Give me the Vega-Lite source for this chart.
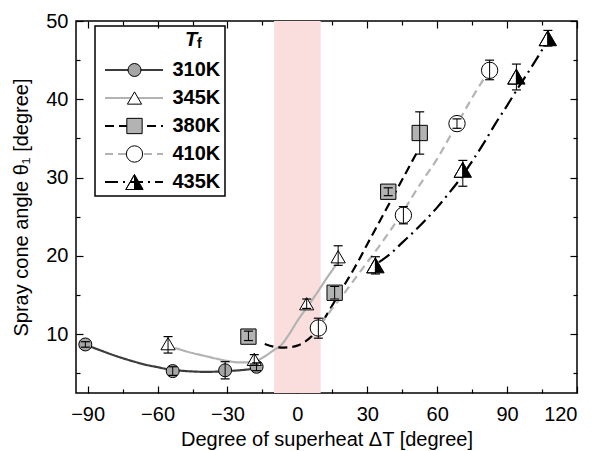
{
  "$schema": "https://vega.github.io/schema/vega-lite/v6.json",
  "width": 501,
  "height": 372,
  "autosize": {"type": "none"},
  "padding": {"left": 76, "top": 21, "right": 30, "bottom": 58},
  "background": "white",
  "config": {
    "view": {"stroke": "black", "strokeWidth": 1.5},
    "font": "Liberation Sans",
    "axis": {"grid": false, "domain": false, "tickColor": "black", "tickWidth": 1.2, "labelColor": "black", "titleColor": "black", "labelFont": "Liberation Sans", "titleFont": "Liberation Sans", "labelFontSize": 20, "titleFontSize": 20, "titleFontWeight": "normal"}
  },
  "datasets": {
    "curves": [
      {"Tf": "310K", "x": -91, "y": 8.65}, {"Tf": "310K", "x": -85, "y": 8.0}, {"Tf": "310K", "x": -80, "y": 7.45}, {"Tf": "310K", "x": -75, "y": 6.95}, {"Tf": "310K", "x": -70, "y": 6.5}, {"Tf": "310K", "x": -65, "y": 6.1}, {"Tf": "310K", "x": -60, "y": 5.8}, {"Tf": "310K", "x": -55, "y": 5.5}, {"Tf": "310K", "x": -50, "y": 5.35}, {"Tf": "310K", "x": -45, "y": 5.25}, {"Tf": "310K", "x": -40, "y": 5.2}, {"Tf": "310K", "x": -35, "y": 5.22}, {"Tf": "310K", "x": -30, "y": 5.3}, {"Tf": "310K", "x": -25, "y": 5.4}, {"Tf": "310K", "x": -20, "y": 5.55}, {"Tf": "310K", "x": -17.5, "y": 5.65},
      {"Tf": "345K", "x": -52.5, "y": 8.25}, {"Tf": "345K", "x": -45, "y": 7.6}, {"Tf": "345K", "x": -40, "y": 7.25}, {"Tf": "345K", "x": -35, "y": 6.9}, {"Tf": "345K", "x": -30, "y": 6.6}, {"Tf": "345K", "x": -25, "y": 6.4}, {"Tf": "345K", "x": -20, "y": 6.45}, {"Tf": "345K", "x": -15, "y": 7.0}, {"Tf": "345K", "x": -10, "y": 8.0}, {"Tf": "345K", "x": -7, "y": 8.6}, {"Tf": "345K", "x": -4, "y": 9.8}, {"Tf": "345K", "x": 0, "y": 11.7}, {"Tf": "345K", "x": 4, "y": 13.4}, {"Tf": "345K", "x": 8, "y": 15.1}, {"Tf": "345K", "x": 12, "y": 16.9}, {"Tf": "345K", "x": 17.4, "y": 19.2},
      {"Tf": "380K", "x": -14, "y": 8.75}, {"Tf": "380K", "x": -10, "y": 8.4}, {"Tf": "380K", "x": -7, "y": 8.3}, {"Tf": "380K", "x": -3, "y": 8.35}, {"Tf": "380K", "x": 0, "y": 8.55}, {"Tf": "380K", "x": 3, "y": 9.0}, {"Tf": "380K", "x": 6, "y": 9.7}, {"Tf": "380K", "x": 9, "y": 10.9}, {"Tf": "380K", "x": 12, "y": 12.2}, {"Tf": "380K", "x": 15, "y": 13.7}, {"Tf": "380K", "x": 18, "y": 15.2}, {"Tf": "380K", "x": 21, "y": 16.7}, {"Tf": "380K", "x": 24, "y": 18.2}, {"Tf": "380K", "x": 27, "y": 19.8}, {"Tf": "380K", "x": 30, "y": 21.5}, {"Tf": "380K", "x": 34, "y": 23.7}, {"Tf": "380K", "x": 38, "y": 25.9}, {"Tf": "380K", "x": 42, "y": 28.1}, {"Tf": "380K", "x": 46, "y": 30.3}, {"Tf": "380K", "x": 50, "y": 32.5}, {"Tf": "380K", "x": 52, "y": 33.6},
      {"Tf": "410K", "x": 10, "y": 11.3}, {"Tf": "410K", "x": 15, "y": 13.3}, {"Tf": "410K", "x": 20, "y": 15.2}, {"Tf": "410K", "x": 25, "y": 17.2}, {"Tf": "410K", "x": 30, "y": 19.2}, {"Tf": "410K", "x": 35, "y": 21.2}, {"Tf": "410K", "x": 40, "y": 23.3}, {"Tf": "410K", "x": 45, "y": 25.5}, {"Tf": "410K", "x": 50, "y": 27.9}, {"Tf": "410K", "x": 55, "y": 30.2}, {"Tf": "410K", "x": 60, "y": 32.4}, {"Tf": "410K", "x": 65, "y": 35.0}, {"Tf": "410K", "x": 70, "y": 37.6}, {"Tf": "410K", "x": 75, "y": 40.2}, {"Tf": "410K", "x": 80, "y": 42.6}, {"Tf": "410K", "x": 82.5, "y": 43.7},
      {"Tf": "435K", "x": 35, "y": 19.2}, {"Tf": "435K", "x": 40, "y": 20.3}, {"Tf": "435K", "x": 45, "y": 21.7}, {"Tf": "435K", "x": 50, "y": 23.1}, {"Tf": "435K", "x": 55, "y": 24.6}, {"Tf": "435K", "x": 60, "y": 26.2}, {"Tf": "435K", "x": 65, "y": 28.0}, {"Tf": "435K", "x": 70, "y": 29.9}, {"Tf": "435K", "x": 75, "y": 32.1}, {"Tf": "435K", "x": 80, "y": 34.4}, {"Tf": "435K", "x": 85, "y": 36.9}, {"Tf": "435K", "x": 90, "y": 39.2}, {"Tf": "435K", "x": 95, "y": 41.6}, {"Tf": "435K", "x": 100, "y": 43.9}, {"Tf": "435K", "x": 105, "y": 46.3}, {"Tf": "435K", "x": 107, "y": 47.3}
    ],
    "pts": [
      {"Tf": "310K", "x": -91, "y": 8.7, "lo": 8.35, "hi": 9.05},
      {"Tf": "310K", "x": -53.5, "y": 5.3, "lo": 4.75, "hi": 5.85},
      {"Tf": "310K", "x": -31, "y": 5.4, "lo": 4.3, "hi": 6.5},
      {"Tf": "310K", "x": -17.5, "y": 5.85, "lo": 5.35, "hi": 6.35},
      {"Tf": "345K", "x": -55.5, "y": 8.8, "lo": 7.6, "hi": 9.7},
      {"Tf": "345K", "x": -18.5, "y": 6.8, "lo": 6.2, "hi": 7.4},
      {"Tf": "345K", "x": 4, "y": 13.9, "lo": 13.3, "hi": 14.5},
      {"Tf": "345K", "x": 17.5, "y": 19.9, "lo": 18.8, "hi": 21.3},
      {"Tf": "380K", "x": -21, "y": 9.7, "lo": 9.2, "hi": 10.4},
      {"Tf": "380K", "x": 16, "y": 15.3, "lo": 14.5, "hi": 16.1},
      {"Tf": "380K", "x": 39, "y": 28.2, "lo": 27.7, "hi": 28.7},
      {"Tf": "380K", "x": 52.5, "y": 35.7, "lo": 33.0, "hi": 38.4},
      {"Tf": "410K", "x": 9, "y": 10.8, "lo": 9.5, "hi": 12.05},
      {"Tf": "410K", "x": 45.5, "y": 25.2, "lo": 24.1, "hi": 26.3},
      {"Tf": "410K", "x": 68.5, "y": 36.9, "lo": 36.3, "hi": 37.5},
      {"Tf": "410K", "x": 82.5, "y": 43.7, "lo": 42.5, "hi": 45.0},
      {"Tf": "435K", "x": 33.5, "y": 18.8, "lo": 17.7, "hi": 19.9},
      {"Tf": "435K", "x": 71, "y": 31.0, "lo": 28.9, "hi": 32.2},
      {"Tf": "435K", "x": 94, "y": 42.9, "lo": 41.2, "hi": 44.5},
      {"Tf": "435K", "x": 107.5, "y": 47.8, "lo": 46.8, "hi": 48.8}
    ]
  },
  "resolve": {"axis": {"x": "independent", "y": "independent"}},
  "layer": [
    {
      "data": {"values": [{"x1": -10, "x2": 10}]},
      "mark": {"type": "rect", "fill": "#fadede"},
      "encoding": {
        "x": {"field": "x1", "type": "quantitative", "scale": {"domain": [-95, 120], "nice": false, "zero": false},
              "axis": {"orient": "bottom", "offset": -7, "values": [-90, -60, -30, 0, 30, 60, 90, 120], "tickSize": 7, "labelPadding": 11, "title": "Degree of superheat ΔT [degree]", "titlePadding": 5}},
        "x2": {"field": "x2"}
      }
    },
    {
      "data": {"name": "curves"},
      "mark": {"type": "line", "interpolate": "monotone"},
      "encoding": {
        "x": {"field": "x", "type": "quantitative", "axis": {"orient": "bottom", "offset": -4, "values": [-75, -45, -15, 15, 45, 75, 105], "tickSize": 4, "labels": false, "title": null}},
        "y": {"field": "y", "type": "quantitative", "scale": {"domain": [2.5, 50], "nice": false, "zero": false},
              "axis": {"orient": "left", "offset": -7, "values": [10, 20, 30, 40, 50], "tickSize": 7, "labelPadding": 8, "title": "Spray cone angle θ₁ [degree]", "titlePadding": 14}},
        "stroke": {"field": "Tf", "type": "nominal", "scale": {"range": ["#3c3c3c", "#b3b3b3", "black", "#b3b3b3", "black"]},
          "legend": {"orient": "none", "legendX": 19, "legendY": 5, "padding": 4, "strokeColor": "black",
            "title": "T", "titleFont": "Liberation Sans", "titleFontSize": 20, "titleFontStyle": "italic", "titleFontWeight": "bold", "titleColor": "black", "titlePadding": 10, "titleAnchor": "start",
            "symbolType": "stroke", "symbolSize": 3364, "symbolOffset": 4.5,
            "labelFont": "Liberation Sans", "labelFontSize": 20, "labelFontWeight": "bold", "labelColor": "black", "labelOffset": 8, "labelExpr": "datum.label + '\u00a0\u00a0'",
            "clipHeight": 20, "rowPadding": 8,
            "encode": {"legend": {"update": {"strokeWidth": {"value": 1.5}}}, "title": {"update": {"dx": {"value": 86}}}}}},
        "strokeDash": {"field": "Tf", "type": "nominal", "scale": {"range": [[1, 0], [1, 0], [9, 5], [8, 5], [13, 5, 2, 5]]}},
        "strokeWidth": {"field": "Tf", "type": "nominal", "scale": {"range": [2.2, 2.2, 3, 3, 3]}}
      }
    },
    {
      "data": {"name": "pts"},
      "transform": [{"filter": "datum.Tf === '435K'"}],
      "mark": {"type": "point", "shape": "triangle-up", "size": 300, "filled": true, "fill": "white", "opacity": 1, "strokeWidth": 0},
      "encoding": {
        "x": {"field": "x", "type": "quantitative", "axis": null},
        "y": {"field": "y", "type": "quantitative", "axis": null}
      }
    },
    {
      "data": {"name": "pts"},
      "mark": {"type": "point", "filled": true, "opacity": 1, "stroke": "black", "strokeWidth": 1},
      "encoding": {
        "x": {"field": "x", "type": "quantitative", "axis": {"orient": "top", "offset": -7, "values": [-90, -60, -30, 0, 30, 60, 90, 120], "tickSize": 7, "labels": false, "title": null}},
        "y": {"field": "y", "type": "quantitative", "axis": {"orient": "left", "offset": -4, "values": [5, 15, 25, 35, 45], "tickSize": 4, "labels": false, "title": null}},
        "shape": {"field": "Tf", "type": "nominal", "scale": {"range": ["circle", "triangle-up", "square", "circle", "M0,-0.866L1,0.866L0,0.866Z M0,-0.866L-1,0.866Z M-1,0.866L0,0.866Z"]}},
        "fill": {"field": "Tf", "type": "nominal", "scale": {"range": ["#a6a6a6", "white", "#b3b3b3", "white", "black"]},
          "legend": {"orient": "none", "legendX": 19, "legendY": 5, "padding": 4,
            "title": "f", "titleFont": "Liberation Sans", "titleFontSize": 14, "titleFontWeight": "bold", "titleColor": "black", "titlePadding": 16, "titleAnchor": "start",
            "symbolOffset": 25.5, "symbolStrokeColor": "black", "symbolStrokeWidth": 1, "symbolOpacity": 1,
            "labelFont": "Liberation Sans", "labelFontSize": 20, "labelFontWeight": "bold", "labelColor": "black", "labelOffset": 8, "labelExpr": "''",
            "clipHeight": 20, "rowPadding": 8,
            "encode": {"title": {"update": {"dx": {"value": 98}, "dy": {"value": 7}}}}}},
        "size": {"field": "Tf", "type": "nominal", "scale": {"range": [169, 300, 150, 169, 300]}}
      }
    },
    {
      "data": {"name": "pts"},
      "mark": {"type": "rule", "color": "black", "strokeWidth": 1},
      "encoding": {
        "x": {"field": "x", "type": "quantitative", "axis": {"orient": "top", "offset": -4, "values": [-75, -45, -15, 15, 45, 75, 105], "tickSize": 4, "labels": false, "title": null}},
        "y": {"field": "lo", "type": "quantitative", "axis": {"orient": "right", "offset": -7, "values": [10, 20, 30, 40, 50], "tickSize": 7, "labels": false, "title": null}},
        "y2": {"field": "hi"}
      }
    },
    {
      "data": {"name": "pts"},
      "transform": [{"fold": ["lo", "hi"], "as": ["end", "v"]}],
      "mark": {"type": "tick", "orient": "horizontal", "size": 9, "thickness": 1.2, "color": "black", "opacity": 1},
      "encoding": {
        "x": {"field": "x", "type": "quantitative", "axis": null},
        "y": {"field": "v", "type": "quantitative", "axis": {"orient": "right", "offset": -4, "values": [5, 15, 25, 35, 45], "tickSize": 4, "labels": false, "title": null}}
      }
    }
  ]
}
